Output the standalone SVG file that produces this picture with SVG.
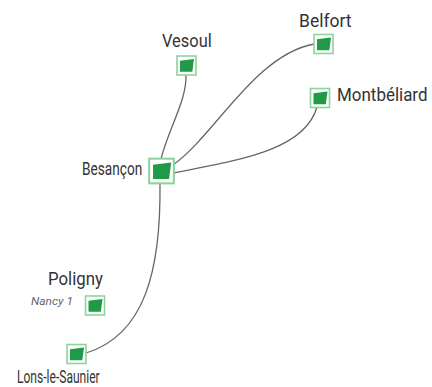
<svg xmlns="http://www.w3.org/2000/svg" width="432" height="387" viewBox="0 0 432 387">
<defs>
<style>
.lbl{font-family:Roboto,"Liberation Sans",sans-serif;font-size:17.5px;fill:#333}
.sub{font-family:Roboto,"Liberation Sans",sans-serif;font-size:10.5px;font-style:italic;fill:#666}
.edge{fill:none;stroke:#666;stroke-width:1.3}
.box{fill:#fff;stroke:#8fd39c;stroke-width:1.6}
.mark{fill:#1f9a47}
</style>
<g id="site">
<rect class="box" x="-9.5" y="-9.5" width="19" height="19"/>
<polygon class="mark" points="-6.5,-4.8 7.5,-6.5 5.8,6.2 -6.5,6.2"/>
</g>
</defs>
<rect width="432" height="387" fill="#fff"/>
<g id="connectors">
<path class="edge" d="M161,159 C168,130 187,100 186,75"/>
<path class="edge" d="M173,165 C215,135 255,55 314,44"/>
<path class="edge" d="M173,173 C240,160 305,150 317,107"/>
<path class="edge" d="M160,183 C161,270 145,335 86,353"/>
</g>
<g id="besancon">
<use href="#site" transform="translate(161.5,171) scale(1.3)"/>
<text class="lbl" transform="translate(82,175) scale(0.78,1)">Besançon</text>
</g>
<g id="vesoul">
<use href="#site" transform="translate(186.5,65.5)"/>
<text class="lbl" transform="translate(162,47) scale(0.94,1)">Vesoul</text>
</g>
<g id="belfort">
<use href="#site" transform="translate(323.5,44)"/>
<text class="lbl" transform="translate(299,27) scale(1,1)">Belfort</text>
</g>
<g id="montbeliard">
<use href="#site" transform="translate(320,98)"/>
<text class="lbl" transform="translate(337,101) scale(0.97,1)">Montbéliard</text>
</g>
<g id="poligny">
<use href="#site" transform="translate(95,305.5)"/>
<text class="lbl" transform="translate(48,285) scale(0.96,1)">Poligny</text>
<text class="sub" x="31" y="305" textLength="42" lengthAdjust="spacingAndGlyphs">Nancy 1</text>
</g>
<g id="lons">
<use href="#site" transform="translate(76.5,354)"/>
<text class="lbl" transform="translate(17,383) scale(0.69,1)">Lons-le-Saunier</text>
</g>
</svg>
